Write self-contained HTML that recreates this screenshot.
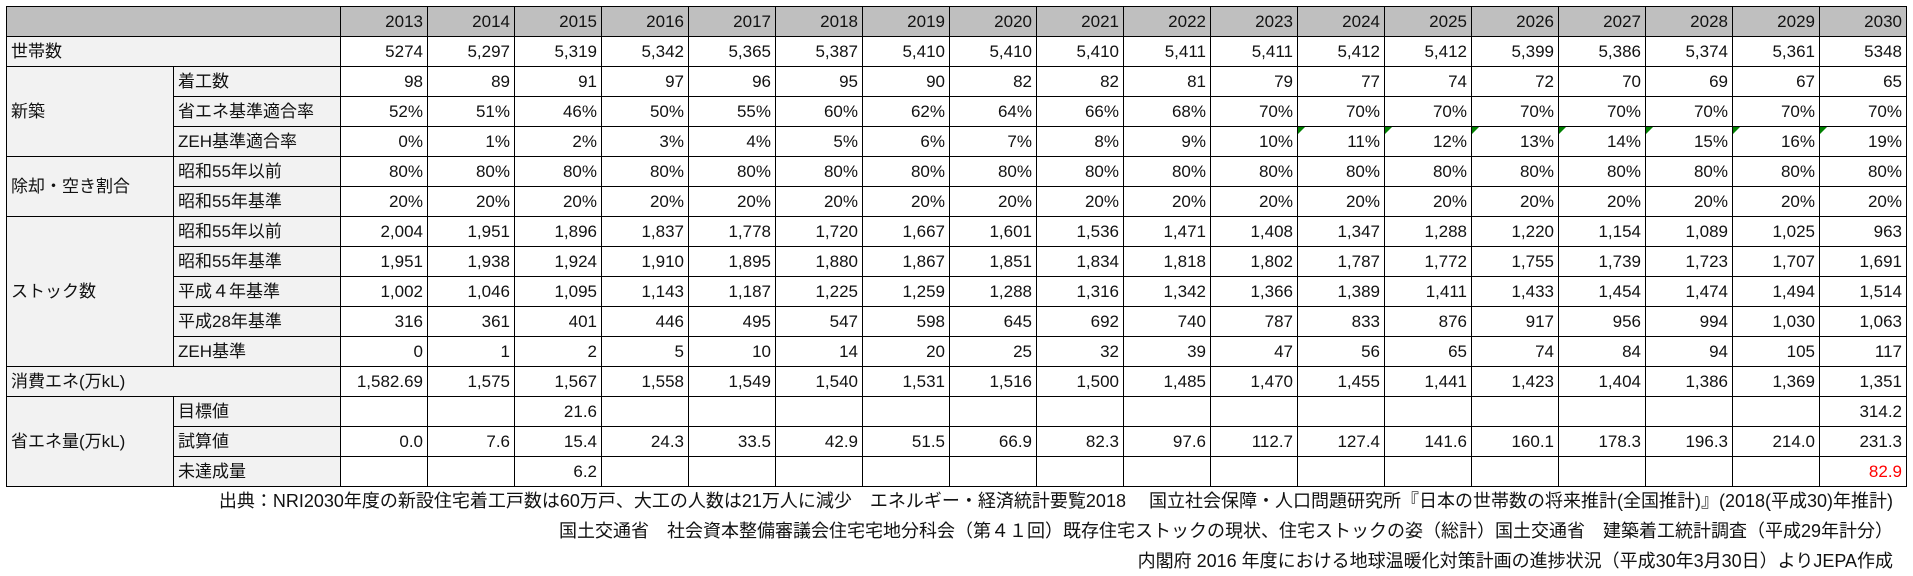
<!DOCTYPE html>
<html><head><meta charset="utf-8">
<style>
html,body{margin:0;padding:0;background:#fff;width:1913px;height:576px;overflow:hidden}
body{font-family:"Liberation Sans","Noto Sans CJK JP",sans-serif;font-size:17px;color:#111}
table{position:absolute;left:6px;top:6px;border-collapse:collapse;table-layout:fixed;width:1901px}
tr{height:30px}
td{border:1.5px solid #000;height:28px;line-height:28px;padding:0 4px;white-space:nowrap;overflow:hidden;position:relative}
td.n{text-align:right}
td.h{background:#bfbfbf;text-align:right}
td.hb{background:#bfbfbf}
td.l{background:#f2f2f2;text-align:left}
td.red{color:#ff0000}
.tri{position:absolute;left:0;top:0;width:0;height:0;border-top:7px solid #008000;border-right:7px solid transparent}
#foot{position:absolute;right:20px;top:486px;text-align:right;font-size:18px;line-height:30px;white-space:nowrap}
</style></head><body>
<table id="tbl">
<colgroup><col style="width:167px"><col style="width:167px"></colgroup>
<tbody id="tb"></tbody>
</table>
<div id="foot">
<div>出典：NRI2030年度の新設住宅着工戸数は60万戸、大工の人数は21万人に減少　エネルギー・経済統計要覧2018　 国立社会保障・人口問題研究所『日本の世帯数の将来推計(全国推計)』(2018(平成30)年推計)</div>
<div>国土交通省　社会資本整備審議会住宅宅地分科会（第４１回）既存住宅ストックの現状、住宅ストックの姿（総計）国土交通省　建築着工統計調査（平成29年計分）</div>
<div>内閣府 2016 年度における地球温暖化対策計画の進捗状況（平成30年3月30日）よりJEPA作成</div>
</div>
<script>
const years=[2013,2014,2015,2016,2017,2018,2019,2020,2021,2022,2023,2024,2025,2026,2027,2028,2029,2030];
const households=["5274","5,297","5,319","5,342","5,365","5,387","5,410","5,410","5,410","5,411","5,411","5,412","5,412","5,399","5,386","5,374","5,361","5348"];
const starts=[98,89,91,97,96,95,90,82,82,81,79,77,74,72,70,69,67,65];
const saveRate=[52,51,46,50,55,60,62,64,66,68,70,70,70,70,70,70,70,70];
const zehRate=[0,1,2,3,4,5,6,7,8,9,10,11,12,13,14,15,16,19];
const demoPre55=[80,80,80,80,80,80,80,80,80,80,80,80,80,80,80,80,80,80];
const demoStd55=[20,20,20,20,20,20,20,20,20,20,20,20,20,20,20,20,20,20];
const stockPre55=["2,004","1,951","1,896","1,837","1,778","1,720","1,667","1,601","1,536","1,471","1,408","1,347","1,288","1,220","1,154","1,089","1,025","963"];
const stockStd55=["1,951","1,938","1,924","1,910","1,895","1,880","1,867","1,851","1,834","1,818","1,802","1,787","1,772","1,755","1,739","1,723","1,707","1,691"];
const stockH4=["1,002","1,046","1,095","1,143","1,187","1,225","1,259","1,288","1,316","1,342","1,366","1,389","1,411","1,433","1,454","1,474","1,494","1,514"];
const stockH28=["316","361","401","446","495","547","598","645","692","740","787","833","876","917","956","994","1,030","1,063"];
const stockZeh=["0","1","2","5","10","14","20","25","32","39","47","56","65","74","84","94","105","117"];
const energy=["1,582.69","1,575","1,567","1,558","1,549","1,540","1,531","1,516","1,500","1,485","1,470","1,455","1,441","1,423","1,404","1,386","1,369","1,351"];
const target=["","","21.6","","","","","","","","","","","","","","","314.2"];
const calc=["0.0","7.6","15.4","24.3","33.5","42.9","51.5","66.9","82.3","97.6","112.7","127.4","141.6","160.1","178.3","196.3","214.0","231.3"];
const shortfall=["","","6.2","","","","","","","","","","","","","","","82.9"];

const tb=document.getElementById('tb');
const pct=a=>a.map(v=>v+'%');
function cell(tr,text,cls,name,attrs){
  const td=document.createElement('td');
  td.className=cls;td.textContent=text;
  
  
  if(attrs){for(const k in attrs)td.setAttribute(k,attrs[k]);}
  tr.appendChild(td);return td;
}
function row(name){const tr=document.createElement('tr');
  
  
  tb.appendChild(tr);return tr;}
let tr=row('header-row');
cell(tr,'','hb','header-blank',{colspan:2});
years.forEach(y=>cell(tr,String(y),'h','year-'+y));
function dataCells(tr,vals,key,opts){
  vals.forEach((v,i)=>{const td=cell(tr,v,'n',key+'-'+years[i]);
    if(opts&&opts.tri&&years[i]>=2024){const t=document.createElement('div');t.className='tri';
      
      
      td.appendChild(t);}
    if(opts&&opts.red&&years[i]===2030)td.classList.add('red');
  });
}
tr=row('households-row');cell(tr,'世帯数','l','households-label',{colspan:2});dataCells(tr,households,'households');
tr=row('starts-row');cell(tr,'新築','l','new-build-label',{rowspan:3});cell(tr,'着工数','l','starts-label');dataCells(tr,starts.map(String),'starts');
tr=row('save-rate-row');cell(tr,'省エネ基準適合率','l','save-rate-label');dataCells(tr,pct(saveRate),'save-rate');
tr=row('zeh-rate-row');cell(tr,'ZEH基準適合率','l','zeh-rate-label');dataCells(tr,pct(zehRate),'zeh-rate',{tri:true});
tr=row('demo-pre55-row');cell(tr,'除却・空き割合','l','demolition-label',{rowspan:2});cell(tr,'昭和55年以前','l','demo-pre55-label');dataCells(tr,pct(demoPre55),'demo-pre55');
tr=row('demo-std55-row');cell(tr,'昭和55年基準','l','demo-std55-label');dataCells(tr,pct(demoStd55),'demo-std55');
tr=row('stock-pre55-row');cell(tr,'ストック数','l','stock-label',{rowspan:5});cell(tr,'昭和55年以前','l','stock-pre55-label');dataCells(tr,stockPre55,'stock-pre55');
tr=row('stock-std55-row');cell(tr,'昭和55年基準','l','stock-std55-label');dataCells(tr,stockStd55,'stock-std55');
tr=row('stock-h4-row');cell(tr,'平成４年基準','l','stock-h4-label');dataCells(tr,stockH4,'stock-h4');
tr=row('stock-h28-row');cell(tr,'平成28年基準','l','stock-h28-label');dataCells(tr,stockH28,'stock-h28');
tr=row('stock-zeh-row');cell(tr,'ZEH基準','l','stock-zeh-label');dataCells(tr,stockZeh,'stock-zeh');
tr=row('energy-row');cell(tr,'消費エネ(万kL)','l','energy-label',{colspan:2});dataCells(tr,energy,'energy');
tr=row('target-row');cell(tr,'省エネ量(万kL)','l','savings-label',{rowspan:3});cell(tr,'目標値','l','target-label');dataCells(tr,target,'target');
tr=row('calc-row');cell(tr,'試算値','l','calc-label');dataCells(tr,calc,'calc');
tr=row('shortfall-row');cell(tr,'未達成量','l','shortfall-label');dataCells(tr,shortfall,'shortfall',{red:true});
</script>
</body></html>
